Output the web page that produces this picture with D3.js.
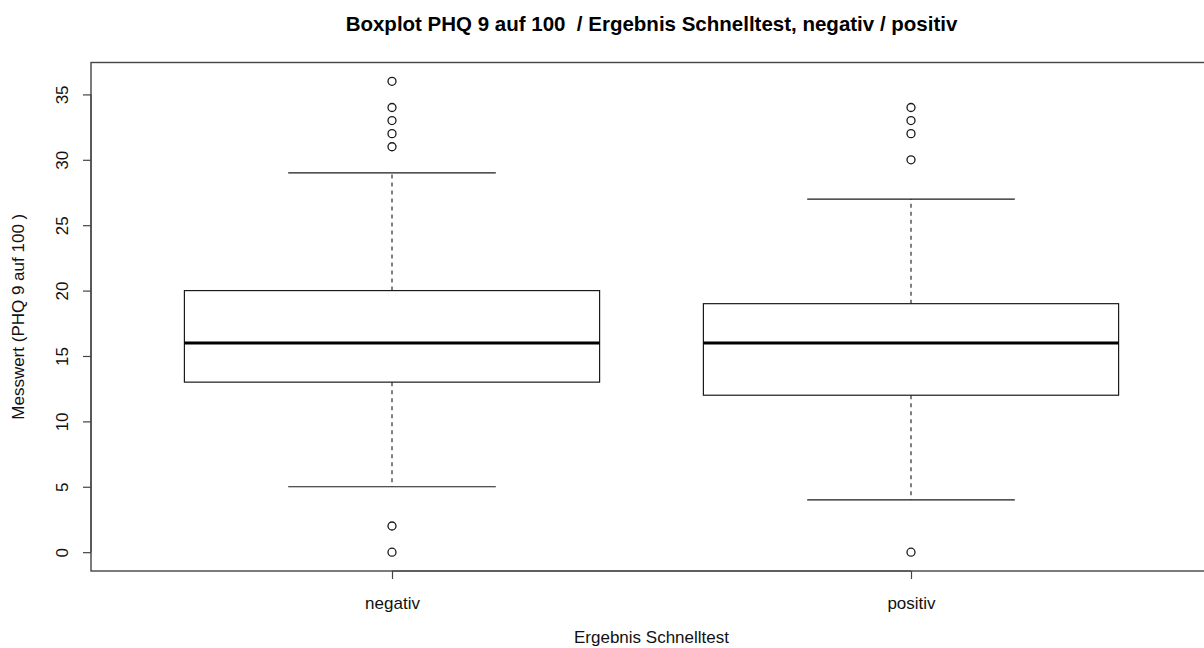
<!DOCTYPE html>
<html>
<head>
<meta charset="utf-8">
<script src="https://cdn.jsdelivr.net/npm/d3@7"></script>
<style>
  html, body { margin: 0; padding: 0; background: #fff; }
  svg { display: block; font-family: "Liberation Sans", Arial, Helvetica, sans-serif; }
</style>
</head>
<body>
<svg id="chart" width="1204" height="648"></svg>
<script>
// Groups on the x axis
const categories = ["negativ", "positiv"];
// Five-number summaries per group: lower whisker, Q1, median, Q3, upper whisker
const whiskerLow = [5, 4];
const q1 = [13, 12];
const median = [16, 16];
const q3 = [20, 19];
const whiskerHigh = [29, 27];
// Points beyond the whiskers
const outliersNegativ = [36, 34, 33, 32, 31, 2, 0];
const outliersPositiv = [34, 33, 32, 30, 0];
const outliers = [outliersNegativ, outliersPositiv];
// Axis ticks
const yTicks = [0, 5, 10, 15, 20, 25, 30, 35];

const titleText = "Boxplot PHQ 9 auf 100  / Ergebnis Schnelltest, negativ / positiv";
const xTitle = "Ergebnis Schnelltest";
const yTitle = "Messwert (PHQ 9 auf 100 )";

const svg = d3.select("#chart");

// Plot region
const plotLeft = 91, plotRight = 1212, plotTop = 62.5, plotBottom = 571;

// Group positions 1..2 on a linear scale, as in a classic boxplot
const x = d3.scaleLinear().domain([1, 2]).range([392, 911]);
const unit = x(2) - x(1);
const y = d3.scaleLinear().domain([-1.44, 37.44]).range([plotBottom, plotTop]);

const boxHalf = 0.4 * unit;
const stapleHalf = 0.2 * unit;
const ink = "#1a1a1a";

const boxes = svg.append("g");
categories.forEach((c, i) => {
  const cx = x(i + 1);
  const g = boxes.append("g");
  // dashed whiskers
  g.append("line").attr("x1", cx).attr("x2", cx)
    .attr("y1", y(q3[i])).attr("y2", y(whiskerHigh[i]))
    .attr("stroke", ink).attr("stroke-width", 1.1).attr("stroke-dasharray", "4,4");
  g.append("line").attr("x1", cx).attr("x2", cx)
    .attr("y1", y(q1[i])).attr("y2", y(whiskerLow[i]))
    .attr("stroke", ink).attr("stroke-width", 1.1).attr("stroke-dasharray", "4,4");
  // staples
  [whiskerLow[i], whiskerHigh[i]].forEach(v => {
    g.append("line").attr("x1", cx - stapleHalf).attr("x2", cx + stapleHalf)
      .attr("y1", y(v)).attr("y2", y(v))
      .attr("stroke", ink).attr("stroke-width", 1.2);
  });
  // box
  g.append("rect")
    .attr("x", cx - boxHalf).attr("width", 2 * boxHalf)
    .attr("y", y(q3[i])).attr("height", y(q1[i]) - y(q3[i]))
    .attr("fill", "none").attr("stroke", ink).attr("stroke-width", 1.2);
  // median
  g.append("line").attr("x1", cx - boxHalf).attr("x2", cx + boxHalf)
    .attr("y1", y(median[i])).attr("y2", y(median[i]))
    .attr("stroke", "#000").attr("stroke-width", 3);
  // outliers
  g.selectAll("circle").data(outliers[i]).join("circle")
    .attr("cx", cx).attr("cy", d => y(d)).attr("r", 4)
    .attr("fill", "none").attr("stroke", ink).attr("stroke-width", 1.3);
});

// Frame
svg.append("rect")
  .attr("x", plotLeft).attr("y", plotTop)
  .attr("width", plotRight - plotLeft).attr("height", plotBottom - plotTop)
  .attr("fill", "none").attr("stroke", "#444").attr("stroke-width", 1.4);

// Y axis
const yAxis = svg.append("g").attr("transform", `translate(${plotLeft},0)`)
  .call(d3.axisLeft(y).tickValues(yTicks).tickSize(8).tickPadding(0).tickFormat(d3.format("d")));
yAxis.select(".domain").attr("d", `M0,${y(0)}V${y(35)}`).attr("stroke", "#444").attr("stroke-width", 1.2);
yAxis.selectAll(".tick line").attr("stroke", "#444").attr("stroke-width", 1.2);
yAxis.selectAll(".tick text")
  .attr("x", null).attr("dy", null)
  .attr("transform", "translate(-29,0) rotate(-90)")
  .attr("text-anchor", "middle")
  .attr("dominant-baseline", "central")
  .attr("font-size", 17).attr("fill", "#111")
  .attr("font-family", "Liberation Sans, Arial, sans-serif");

// X axis
const xAxis = svg.append("g").attr("transform", `translate(0,${plotBottom})`)
  .call(d3.axisBottom(x).tickValues([1, 2]).tickSize(8).tickPadding(0)
    .tickFormat((d) => categories[d - 1]));
xAxis.select(".domain").attr("d", `M${x(1)},0H${x(2)}`).attr("stroke", "#444").attr("stroke-width", 1.2);
xAxis.selectAll(".tick line").attr("stroke", "#444").attr("stroke-width", 1.2);
xAxis.selectAll(".tick text")
  .attr("y", 38).attr("dy", null)
  .attr("font-size", 17).attr("fill", "#111")
  .attr("font-family", "Liberation Sans, Arial, sans-serif");

// Titles
svg.append("text")
  .attr("x", (plotLeft + plotRight) / 2).attr("y", 31)
  .attr("text-anchor", "middle")
  .attr("xml:space", "preserve")
  .style("white-space", "pre")
  .attr("font-size", 20.5).attr("font-weight", "bold").attr("fill", "#000")
  .text(titleText);

svg.append("text")
  .attr("x", (plotLeft + plotRight) / 2).attr("y", 643)
  .attr("text-anchor", "middle")
  .attr("font-size", 17).attr("fill", "#111")
  .text(xTitle);

svg.append("text")
  .attr("transform", `translate(24,${(plotTop + plotBottom) / 2}) rotate(-90)`)
  .attr("text-anchor", "middle")
  .attr("font-size", 17).attr("fill", "#111")
  .text(yTitle);
</script>
</body>
</html>
